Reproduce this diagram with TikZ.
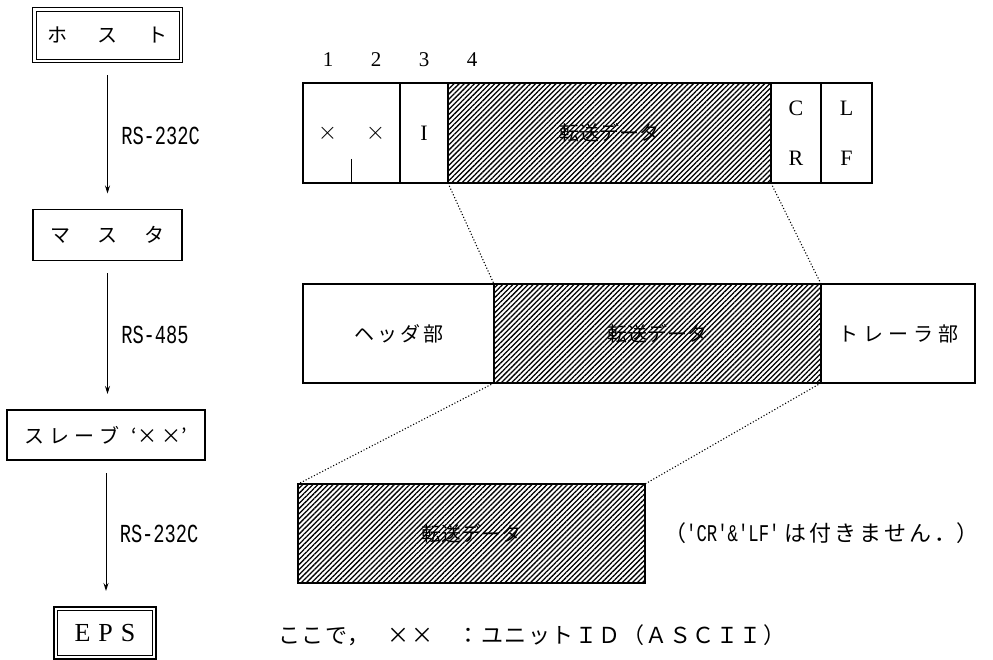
\documentclass[tikz,border=0pt]{standalone}
\usepackage{fontspec}
\setmainfont{Liberation Serif}
\setmonofont{Liberation Mono}
\newfontfamily\jfont{Noto Sans CJK JP}
\usepackage{tikz}
\usetikzlibrary{calc, arrows.meta, positioning, patterns.meta}
\newcommand{\jsize}{\fontsize{20}{20}\selectfont}
\newcommand{\hatchtext}{転送データ}
\newcommand{\narrowmono}[2]{\scalebox{0.72}[1]{\ttfamily\fontsize{#1}{#1}\selectfont #2}}

\begin{document}
\begin{tikzpicture}[x=1pt, y=-1pt,
    unit/.style={draw, line width=1.2pt, inner sep=0pt, outer sep=0pt,
        font=\jfont\jsize},
    hostunit/.style={unit, line width=1.5pt},
    cell/.style={draw, line width=1.1pt, inner sep=0pt, outer sep=0pt,
        anchor=north west, font=\fontsize{20}{20}\selectfont},
    hatched/.style={cell, font=\jfont\jsize,
        pattern={Lines[angle=45, distance=3.6pt, line width=1.3pt]}},
    flow/.style={-{Stealth[length=8pt, width=5pt]}, line width=0.9pt,
        shorten <=13pt, shorten >=16pt},
    linklabel/.style={font=\fontsize{25}{25}\selectfont},
    note/.style={anchor=west, inner sep=0pt,
        font=\jfont\fontsize{22}{22}\selectfont\addfontfeature{LetterSpace=7}},
    zoomline/.style={dotted, line width=1.1pt}]
    \useasboundingbox (0,0) rectangle (993,660);

    % units on the left
    \node[hostunit, minimum width=150pt, minimum height=55pt] (host) at (107.5,35) {ホ\hspace{30pt}ス\hspace{30pt}ト};
    \draw[line width=0.8pt] ([shift={(3.5pt,-3.5pt)}]host.north west) rectangle ([shift={(-3.5pt,3.5pt)}]host.south east);
    \node[unit, minimum width=149pt, minimum height=51pt] (master) at (107.5,235) {マ\hspace{27pt}ス\hspace{27pt}タ};
    \node[unit, minimum width=198pt, minimum height=50pt] (slave) at (106,435) {ス\hspace{5pt}レ\hspace{5pt}ー\hspace{5pt}ブ\hspace{12pt}‘×\hspace{4pt}×’};
    \node[hostunit, minimum width=102pt, minimum height=52pt, font=\fontsize{26}{26}\selectfont] (eps) at (105,633) {E\hspace{8pt}P\hspace{8pt}S};
    \draw[line width=0.8pt] ([shift={(3.5pt,-3.5pt)}]eps.north west) rectangle ([shift={(-3.5pt,3.5pt)}]eps.south east);

    \draw[flow] (host.south) -- (host.south |- master.north) node[linklabel, midway, right=10pt] {\narrowmono{26}{RS-232C}};
    \draw[flow] (master.south) -- (master.south |- slave.north) node[linklabel, midway, right=10pt] {\narrowmono{26}{RS-485}};
    \draw[flow] (slave.south) -- (slave.south |- eps.north) node[linklabel, midway, right=10pt] {\narrowmono{26}{RS-232C}};

    % frame from the host
    \foreach \n in {1,...,4}
        \node[font=\fontsize{21}{21}\selectfont] (num\n) at ({280+48*\n},60) {\n};
    \node[cell, minimum width=97pt, minimum height=100pt, font=\fontsize{28}{28}\selectfont] (topid) at (303,83) {\makebox[48pt]{$\times$}\makebox[48pt]{$\times$}};
    \node[cell, minimum width=48pt, minimum height=100pt, font=\fontsize{22}{22}\selectfont] (topi) at (400,83) {I};
    \node[hatched, minimum width=323pt, minimum height=100pt] (topdata) at (448,83) {\hatchtext};
    \node[cell, minimum width=50pt, minimum height=100pt, align=center, font=\fontsize{22}{50}\selectfont] (topcr) at (771,83) {C\\R};
    \node[cell, minimum width=51pt, minimum height=100pt, align=center, font=\fontsize{22}{50}\selectfont] (toplf) at (821,83) {L\\F};
    \draw[line width=1.1pt] ($(topid.south)+(0,-24)$) -- (topid.south);

    % frame on the RS-485 line
    \node[cell, font=\jfont\jsize, minimum width=191pt, minimum height=99pt] (midhead) at (303,284) {ヘ\hspace{3pt}ッ\hspace{3pt}ダ\hspace{3pt}部\hspace{14pt}};
    \node[hatched, minimum width=327pt, minimum height=99pt] (middata) at (494,284) {\hatchtext};
    \node[cell, font=\jfont\jsize, minimum width=154pt, minimum height=99pt] (midtrail) at (821,284) {ト\hspace{5pt}レ\hspace{5pt}ー\hspace{5pt}ラ\hspace{5pt}部};

    % frame to the EPS
    \node[hatched, minimum width=347pt, minimum height=99pt] (lowdata) at (298,484) {\hatchtext};
    \node[note] (nocrlf) at (664,533) {（\narrowmono{24}{'CR'\&'LF'}\hspace{5pt}{\addfontfeature{LetterSpace=14}は付きません．}）};

    \draw[zoomline] (topdata.south west) -- (middata.north west);
    \draw[zoomline] (topdata.south east) -- (middata.north east);
    \draw[zoomline] (middata.south west) -- (lowdata.north west);
    \draw[zoomline] (middata.south east) -- (lowdata.north east);

    \node[note] (legend) at (278,635) {ここで，\hspace{18pt}××\hspace{24pt}：ユニットＩＤ（ＡＳＣＩＩ）};
\end{tikzpicture}
\end{document}
